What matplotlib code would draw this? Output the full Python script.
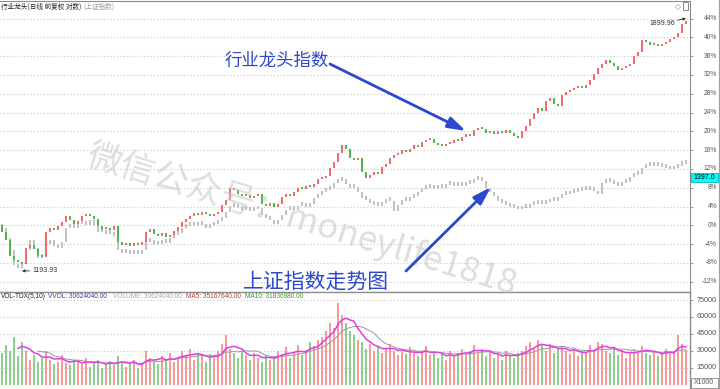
import numpy as np
import matplotlib
matplotlib.use('Agg')
import matplotlib.pyplot as plt
import matplotlib.transforms as mtransforms
from matplotlib.patches import Rectangle, FancyArrowPatch
from matplotlib.lines import Line2D

plt.rcParams['font.family'] = ['Noto Sans CJK SC', 'DejaVu Sans']

# ---------------------------------------------------------------------------
# Data (% change vs. start, one bar every ~4 px)
# ---------------------------------------------------------------------------

ind_close = [
    -1.4, -3.1, -6.5, -7.4, -7.8, -8.2, -4.8, -4.2, -5.0, -6.5,
    -6.7, -1.4, -0.6, -1.0, -0.1, 0.7, 2.0, 1.1, 0.3, 0.9,
    2.0, 2.4, 2.0, 1.3, -0.1, -0.8, -0.6, -1.0, -0.1, -3.6,
    -4.2, -3.8, -4.4, -3.8, -4.2, -3.6, -1.4, -0.8, -1.9, -2.3,
    -1.6, -2.5, -2.1, -1.2, -0.4, 0.7, 1.3, 2.0, 2.6, 2.2,
    2.8, 2.4, 2.0, 2.4, 2.8, 4.3, 5.4, 7.9, 7.5, 6.7,
    6.2, 6.4, 5.8, 6.2, 6.7, 4.5, 4.1, 4.7, 3.9, 4.5,
    6.0, 6.7, 6.2, 7.1, 7.9, 7.7, 8.4, 8.2, 8.8, 9.9,
    10.1, 10.5, 12.2, 13.5, 15.4, 17.1, 16.2, 14.3, 13.9, 14.3,
    11.3, 10.1, 10.7, 11.3, 10.9, 12.4, 13.0, 14.3, 14.9, 15.2,
    16.0, 15.6, 16.2, 17.1, 16.7, 17.7, 18.1, 18.4, 17.5, 17.1,
    16.9, 17.3, 17.5, 18.1, 17.9, 18.8, 19.4, 19.0, 20.3, 20.7,
    20.5, 19.6, 20.0, 19.4, 20.0, 19.6, 20.3, 19.6, 19.0, 18.6,
    20.0, 21.1, 22.6, 23.9, 24.9, 24.3, 26.4, 27.1, 25.8, 25.4,
    27.7, 28.4, 28.8, 29.2, 29.4, 29.2, 29.8, 30.9, 32.2, 33.5,
    34.3, 35.2, 34.5, 33.9, 33.0, 33.5, 33.9, 34.3, 36.0, 36.9,
    39.4, 39.0, 38.4, 38.6, 38.2, 38.6, 39.0, 39.6, 40.1, 40.9,
    42.8, 43.5,
]

sh_close = [
    -0.6, -2.7, -5.3, -8.4, -9.1, -7.8, -5.3, -3.1, -4.8, -7.0,
    -6.5, -4.0, -3.1, -4.4, -4.8, -3.6, -0.6, 0.3, -0.6, 0.3,
    0.7, 0.1, 1.1, -0.1, -1.4, -1.0, -1.9, -1.4, -2.3, -5.3,
    -5.9, -5.3, -6.1, -5.7, -6.1, -5.3, -3.6, -3.1, -4.2, -4.0,
    -3.1, -3.8, -2.7, -2.1, -1.6, -0.6, -0.1, 0.3, -0.1, 0.7,
    0.1, -0.6, -0.1, 0.3, 0.9, 1.6, 2.8, 4.1, 3.9, 3.7,
    3.3, 3.7, 3.0, 3.4, 3.7, 2.2, 1.6, 1.1, 0.3, 1.1,
    2.2, 3.3, 3.7, 3.3, 4.1, 4.3, 3.9, 4.5, 5.8, 6.4,
    7.1, 7.5, 7.9, 9.0, 9.4, 9.8, 8.8, 7.9, 8.1, 7.1,
    5.8, 5.4, 4.7, 4.3, 4.1, 4.7, 5.6, 5.2, 3.0, 4.3,
    5.4, 5.2, 5.8, 6.2, 7.1, 7.7, 7.9, 8.1, 7.7, 8.4,
    7.9, 8.6, 8.8, 8.4, 9.0, 8.4, 8.8, 9.0, 9.6, 9.8,
    9.4, 7.9, 7.1, 6.2, 5.2, 4.7, 4.3, 3.9, 3.7, 3.4,
    4.1, 3.7, 4.3, 4.5, 4.7, 4.5, 4.9, 5.4, 5.2, 5.8,
    6.4, 6.6, 6.9, 7.1, 7.3, 7.5, 7.5, 7.7, 7.3, 6.6,
    9.0, 9.4, 9.2, 8.8, 8.4, 9.0, 9.2, 10.3, 10.7, 10.9,
    12.2, 12.6, 12.8, 12.6, 13.0, 12.4, 12.2, 11.9, 12.2, 12.6,
    13.7, 13.0,
]

# volume, in thousands of the axis unit (axis is x1000)
volume_k = [
    28, 35, 30, 42, 25, 38, 30, 22, 26, 20,
    24, 30, 22, 18, 20, 26, 19, 17, 22, 20,
    18, 24, 16, 20, 22, 15, 18, 21, 17, 25,
    20, 16, 18, 22, 15, 19, 30, 24, 21, 18,
    25, 22, 28, 20, 24, 30, 26, 32, 22, 28,
    25, 20, 27, 24, 30, 36, 44, 32, 28, 24,
    30, 26, 22, 28, 24, 20, 26, 22, 25, 30,
    27, 33, 24, 29, 35, 26, 31, 38, 34, 40,
    42, 48, 55, 50, 72, 62, 55, 48, 44, 40,
    38, 32, 36, 30, 34, 28, 32, 36, 30, 26,
    30, 27, 33, 28, 25, 30, 34, 26, 29, 24,
    27, 22, 30, 25, 28, 32, 26, 30, 35, 28,
    32, 25, 29, 24, 27, 22, 30, 26, 24, 28,
    30, 34, 38, 32, 40, 35, 30, 36, 28, 32,
    34, 30, 27, 32, 25, 30, 28, 35, 31, 38,
    36, 30, 28, 33, 26, 31, 24, 28, 32, 30,
    34, 28, 26, 30, 25, 28, 32, 27, 30, 44,
    36, 31,
]

pct_ticks = [-12, -8, -4, 0, 4, 8, 12, 16, 20, 24, 28, 32, 36, 40, 44]
vol_ticks = [15000, 30000, 45000, 60000, 75000]

LOW_LABEL = '1193.93'
HIGH_LABEL = '1899.96'
LAST_LABEL = '1397.0'

# ---------------------------------------------------------------------------
# Layout helpers (pixel based, 720x389)
# ---------------------------------------------------------------------------

W, H = 720, 389


def px_rect(x0, y0, x1, y1):
  return [x0 / W, 1 - y1 / H, (x1 - x0) / W, (y1 - y0) / H]


RED = '#f46a6a'
GREEN = '#4fb54f'
RED_V = '#f79a9a'
GREEN_V = '#8ccf8c'
GRAY = '#c2c2c2'
GRID = '#c6c6c6'
BLUE = '#2b48cf'
AXC = '#8c8c8c'

fig = plt.figure(figsize=(7.2, 3.89), dpi=100)
ax = fig.add_axes(px_rect(0, 1, 690, 292))
axv = fig.add_axes(px_rect(0, 292, 690, 389))

n = len(ind_close)
x = np.arange(n)
ind_c = np.array(ind_close)
ind_o = np.concatenate([[0.0], ind_c[:-1]])
sh_c = np.array(sh_close)
sh_o = np.concatenate([[0.0], sh_c[:-1]])
up = ind_c >= ind_o

# --- main panel -------------------------------------------------------------
for t in pct_ticks:
  ax.axhline(t, color=GRID, lw=0.8, ls=(0, (1, 2)), zorder=0)

sh_bot = np.minimum(sh_o, sh_c)
sh_h = np.maximum(np.abs(sh_c - sh_o), 0.8)
ax.bar(x, sh_h, bottom=sh_bot, width=0.4, color=GRAY, zorder=2)

body_bot = np.minimum(ind_o, ind_c)
body_h = np.maximum(np.abs(ind_c - ind_o), 0.4)
ax.bar(x, body_h, bottom=body_bot, width=0.55,
       color=np.where(up, RED, GREEN), zorder=3)

ax.set_xlim(-0.5, -0.5 + 690 / 4)
ax.set_ylim((225.3 - 292) / 4.7, (225.3 - 1) / 4.7)
ax.set_xticks([])
ax.set_yticks(pct_ticks)
ax.tick_params(axis='y', left=False, right=True, labelleft=False,
               labelright=False, length=2.5, color=AXC, width=0.6)
ax.spines['left'].set_visible(False)
for s in ('top', 'right', 'bottom'):
  ax.spines[s].set_color(AXC)
  ax.spines[s].set_linewidth(0.8)

tr = mtransforms.blended_transform_factory(fig.transFigure, ax.transData)
for t in pct_ticks:
  ax.text(717 / W, t, '%d%%' % t, transform=tr, ha='right', va='center',
          fontsize=4.8, color='#555555', family='Liberation Sans')

# low / high markers
i_low = int(np.argmin(ind_c))
ax.annotate(LOW_LABEL, xy=(i_low, -9.7), xytext=(i_low + 2.6, -9.7),
            fontsize=5, va='center', ha='left', color='#333333',
            family='Liberation Sans',
            arrowprops=dict(arrowstyle='-|>', color='#333333', lw=0.6,
                            mutation_scale=4, shrinkA=0, shrinkB=0))
i_high = n - 1
ax.annotate(HIGH_LABEL, xy=(i_high, 44.0), xytext=(i_high - 2.8, 43.0),
            fontsize=5, va='center', ha='right', color='#333333',
            family='Liberation Sans',
            arrowprops=dict(arrowstyle='-|>', color='#333333', lw=0.6,
                            mutation_scale=4, shrinkA=0, shrinkB=0))

# --- volume panel -----------------------------------------------------------
vol = np.array(volume_k) * 1000.0
for t in vol_ticks:
  axv.axhline(t, color=GRID, lw=0.8, ls=(0, (1, 2)), zorder=0)
axv.bar(x, vol, width=0.7, color=np.where(up, RED_V, GREEN_V), zorder=2)


def moving_avg(v, k):
  out = np.full(len(v), np.nan)
  out[k - 1:] = np.convolve(v, np.ones(k) / k, mode='valid')
  return out


axv.plot(x, moving_avg(vol, 10), color='#9a9a9a', lw=0.7, zorder=3)
axv.plot(x, moving_avg(vol, 5), color='#e23de2', lw=1.1, zorder=4)

axv.set_xlim(ax.get_xlim())
axv.set_ylim((384.6 - 389) / 16.9 * 15000, (384.6 - 292) / 16.9 * 15000)
axv.set_xticks([])
axv.set_yticks(vol_ticks)
axv.tick_params(axis='y', left=False, right=True, labelleft=False,
                labelright=False, length=2.5, color=AXC, width=0.6)
axv.spines['left'].set_visible(False)
axv.spines['bottom'].set_visible(False)
for s in ('top', 'right'):
  axv.spines[s].set_color(AXC)
  axv.spines[s].set_linewidth(1.0)

trv = mtransforms.blended_transform_factory(fig.transFigure, axv.transData)
for t in vol_ticks:
  axv.text(717 / W, t, '%d' % t, transform=trv, ha='right', va='center',
           fontsize=5.2, color='#555555', family='Liberation Sans')

# --- figure level decorations ----------------------------------------------
fig.add_artist(Line2D([718.5 / W, 718.5 / W], [0, 1], color='#a0a0a0',
                      lw=0.8, transform=fig.transFigure))

fig.text(1 / W, 1 - 7 / H, '行业龙头(日线 前复权 对数)', fontsize=4.8,
         va='center', ha='left', color='#222222')
fig.text(83 / W, 1 - 7 / H, '(上证指数)', fontsize=4.8,
         va='center', ha='left', color='#9a9a9a')
fig.text(678 / W, 1 - 7 / H, '◇', fontsize=5.5, va='center', ha='center',
         color='#777777', family=['DejaVu Sans'])
fig.add_artist(Rectangle((683 / W, 1 - 10 / H), 5 / W, 8 / H, fill=False,
                         ec='#777777', lw=0.6, transform=fig.transFigure))

# last price box
fig.add_artist(Rectangle((690.5 / W, 1 - 182 / H), 27.5 / W, 9 / H,
                         fc='#00ffff', ec='#00a0a0', lw=0.5,
                         transform=fig.transFigure))
fig.text(704 / W, 1 - 177.5 / H, LAST_LABEL, fontsize=5, ha='center',
         va='center', color='#000000', family='Liberation Sans')

# x1000 box
fig.add_artist(Rectangle((690.5 / W, 1 - 388 / H), 27.5 / W, 10 / H,
                         fc='white', ec='#888888', lw=0.6,
                         transform=fig.transFigure))
fig.text(704 / W, 1 - 383 / H, 'X1000', fontsize=5, ha='center',
         va='center', color='#555555', family='Liberation Sans')

# volume title line
vol_title = [
    (1, 'VOL-TDX(5,10)', '#222222'),
    (48, 'VVOL: 30624040.00', '#3a3aa8'),
    (113, 'VOLUME: 30624040.00', '#a8a8a8'),
    (186, 'MA5: 35167640.00', '#c23838'),
    (245, 'MA10: 31836980.00', '#2e9a2e'),
]
for xp, s, c in vol_title:
  fig.text(xp / W, 1 - 297 / H, s, fontsize=4.7, ha='left', va='center',
           color=c, family='Liberation Sans')

# watermark
fig.text(302 / W, 1 - 220 / H, '微信公众号：moneylife1818', fontsize=25,
         rotation=-17, rotation_mode='anchor', ha='center', va='center',
         color='#c8c8c8', alpha=0.6, fontweight='light', zorder=10)

# blue call-outs
fig.text(277 / W, 1 - 61 / H, '行业龙头指数', fontsize=12.5, ha='center',
         va='center', color=BLUE, zorder=11)
fig.text(316 / W, 1 - 282 / H, '上证指数走势图', fontsize=15,
         ha='center', va='center', color=BLUE, zorder=11)
arrow_kw = dict(arrowstyle='-|>,head_length=0.9,head_width=0.28',
                color=BLUE, lw=2.0, mutation_scale=12,
                shrinkA=0, shrinkB=0)
fig.add_artist(FancyArrowPatch(
    (330 / W, 1 - 64 / H), (466 / W, 1 - 131 / H),
    transform=fig.transFigure, zorder=11, **arrow_kw))
fig.add_artist(FancyArrowPatch(
    (406 / W, 1 - 271 / H), (491 / W, 1 - 187 / H),
    transform=fig.transFigure, zorder=11, **arrow_kw))

fig.savefig('out.png', dpi=100)
plt.close(fig)
